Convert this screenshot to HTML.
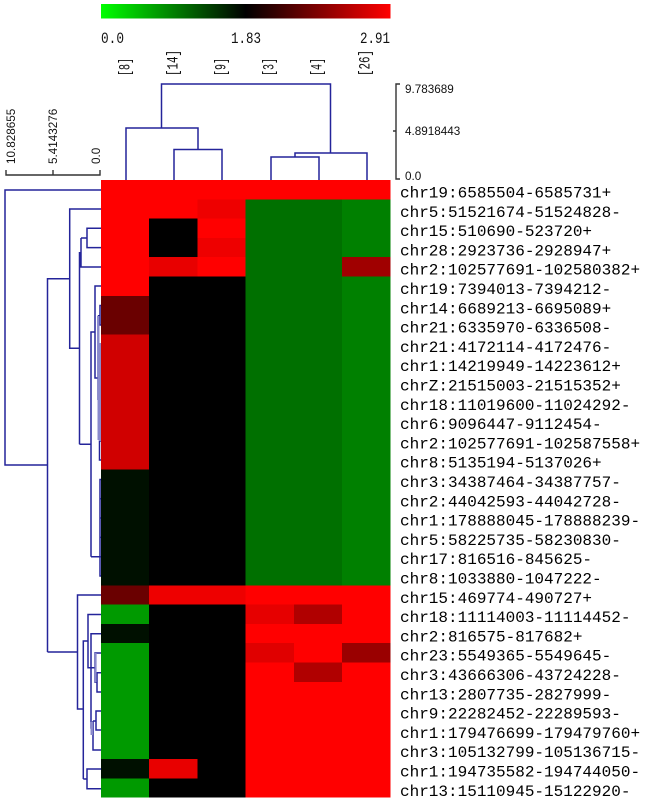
<!DOCTYPE html>
<html><head><meta charset="utf-8"><title>Heatmap</title>
<style>html,body{margin:0;padding:0;background:#fff}svg{display:block}</style></head>
<body>
<svg xmlns="http://www.w3.org/2000/svg" width="650" height="803" viewBox="0 0 650 803">
<defs><linearGradient id="g" x1="0" x2="1" y1="0" y2="0"><stop offset="0" stop-color="#00ff00"/><stop offset="0.5" stop-color="#000"/><stop offset="1" stop-color="#ff0000"/></linearGradient></defs>
<rect width="650" height="803" fill="#fff"/>
<rect x="101" y="4" width="289.5" height="14.5" fill="url(#g)"/>
<g font-family="'Liberation Mono',monospace" font-size="16" fill="#111">
<text x="101" y="43" textLength="23" lengthAdjust="spacingAndGlyphs">0.0</text>
<text x="231" y="43" textLength="30" lengthAdjust="spacingAndGlyphs">1.83</text>
<text x="360" y="43" textLength="30" lengthAdjust="spacingAndGlyphs">2.91</text>
<text transform="translate(129.5,76) rotate(-90)" textLength="18" lengthAdjust="spacingAndGlyphs">[8]</text>
<text transform="translate(177.5,76) rotate(-90)" textLength="26" lengthAdjust="spacingAndGlyphs">[14]</text>
<text transform="translate(225.5,76) rotate(-90)" textLength="18" lengthAdjust="spacingAndGlyphs">[9]</text>
<text transform="translate(273.5,76) rotate(-90)" textLength="18" lengthAdjust="spacingAndGlyphs">[3]</text>
<text transform="translate(321.5,76) rotate(-90)" textLength="18" lengthAdjust="spacingAndGlyphs">[4]</text>
<text transform="translate(369.5,76) rotate(-90)" textLength="26" lengthAdjust="spacingAndGlyphs">[26]</text>
</g>
<g font-family="'Liberation Sans',sans-serif" font-size="11.7" fill="#111">
<text x="405" y="93">9.783689</text>
<text x="405" y="135">4.8918443</text>
<text x="405" y="180">0.0</text>
<text transform="translate(15,164) rotate(-90)">10.828655</text>
<text transform="translate(57,164) rotate(-90)">5.4143276</text>
<text transform="translate(100,164) rotate(-90)">0.0</text>
</g>
<g fill="none" stroke="#333" stroke-width="1.4">
<path d="M400 84H396V179H400M393 131H396"/>
<path d="M6 170V175H100V170M53 170V175"/>
</g>
<g fill="none" stroke="#24249a" stroke-width="1.5">
<path d="M126 180V128H198V149.5M174 180V149.5H222V180M161.5 128V84H330.5V153M295 157V153H367V180M271 180V157H319V180"/>
<path d="M101 190H5V465H47.5M47.5 652V278.7H69.7M101 209H69.7V348.3H79.5M79.5 444.3V252.7H81M81 238V267H101M81 238H87M101 228.3H87V247.6H101"/>
<path d="M79.5 444.3H91M91 556.7V332H95M101 286H95V378H98"/>
<path d="M47.5 652H77.5M101 595H77.5V709H83.3M83.3 779V641H88M101 614.5H88V667.7H91M101 633.7H91V728H93M93 721V750H101M93 721H96M101 711H96V730H101M91 667.7H95M101 653H95V682H97M101 672.7H97V692H101"/>
<path d="M83.3 779H87M101 769H87V788.7H101"/>
<path d="M91 556.7H100M101 479.5H100V576H101M100 498.8H101M100 518H101M100 537.4H101M100 556.7H101"/>
<path d="M98 315.7V400M101 305.5H100V325H101M98 315.7H100M101 344H100V441M100 363H101M100 383H101M100 402H101M100 421H101M101 441H99.5V460H101"/>
</g>
<g fill="#8a8acb" stroke="none">
<rect x="97.5" y="316" width="2" height="124"/>
<rect x="99" y="343" width="2" height="98"/>
<rect x="94.6" y="653" width="2" height="29"/>
<rect x="90.5" y="722" width="2.5" height="13"/>
</g>
<!-- heatmap -->
<g shape-rendering="crispEdges">
<rect x="101" y="180" width="289.3" height="617.6" fill="#ff0000"/>
<rect x="101" y="295.8" width="48.2" height="38.6" fill="#6a0000"/>
<rect x="101" y="334.4" width="48.2" height="135.1" fill="#d00000"/>
<rect x="101" y="469.5" width="48.2" height="115.8" fill="#001000"/>
<rect x="101" y="585.3" width="48.2" height="19.3" fill="#6a0000"/>
<rect x="101" y="604.6" width="48.2" height="19.3" fill="#009a00"/>
<rect x="101" y="623.9" width="48.2" height="19.3" fill="#001000"/>
<rect x="101" y="643.2" width="48.2" height="115.8" fill="#009a00"/>
<rect x="101" y="759" width="48.2" height="19.3" fill="#001000"/>
<rect x="101" y="778.3" width="48.2" height="19.3" fill="#009a00"/>
<rect x="149.2" y="218.6" width="48.2" height="38.6" fill="#000"/>
<rect x="149.2" y="257.2" width="48.2" height="19.3" fill="#e80000"/>
<rect x="149.2" y="276.5" width="48.2" height="308.8" fill="#000"/>
<rect x="149.2" y="585.3" width="48.2" height="19.3" fill="#ee0000"/>
<rect x="149.2" y="604.6" width="48.2" height="154.4" fill="#000"/>
<rect x="149.2" y="759" width="48.2" height="19.3" fill="#e80000"/>
<rect x="149.2" y="778.3" width="48.2" height="19.3" fill="#000"/>
<rect x="197.4" y="199.3" width="48.2" height="19.3" fill="#ee0000"/>
<rect x="197.4" y="237.9" width="48.2" height="19.3" fill="#ee0000"/>
<rect x="197.4" y="276.5" width="48.2" height="308.8" fill="#000"/>
<rect x="197.4" y="585.3" width="48.2" height="19.3" fill="#ee0000"/>
<rect x="197.4" y="604.6" width="48.2" height="193" fill="#000"/>
<rect x="245.6" y="199.3" width="96.4" height="386" fill="#007000"/>
<rect x="342" y="199.3" width="48.3" height="386" fill="#008000"/>
<rect x="342" y="257.2" width="48.3" height="19.3" fill="#a00000"/>
<rect x="245.6" y="604.6" width="48.2" height="19.3" fill="#e60000"/>
<rect x="245.6" y="643.2" width="48.2" height="19.3" fill="#e00000"/>
<rect x="293.8" y="604.6" width="48.2" height="19.3" fill="#b00000"/>
<rect x="293.8" y="662.5" width="48.2" height="19.3" fill="#b00000"/>
<rect x="342" y="643.2" width="48.3" height="19.3" fill="#9a0000"/>
</g>
<g font-family="'Liberation Mono',monospace" font-size="16" fill="#000">
<text x="400" y="197.5">chr19:6585504-6585731+</text>
<text x="400" y="216.8">chr5:51521674-51524828-</text>
<text x="400" y="236.1">chr15:510690-523720+</text>
<text x="400" y="255.4">chr28:2923736-2928947+</text>
<text x="400" y="274.7">chr2:102577691-102580382+</text>
<text x="400" y="294">chr19:7394013-7394212-</text>
<text x="400" y="313.3">chr14:6689213-6695089+</text>
<text x="400" y="332.6">chr21:6335970-6336508-</text>
<text x="400" y="351.9">chr21:4172114-4172476-</text>
<text x="400" y="371.2">chr1:14219949-14223612+</text>
<text x="400" y="390.5">chrZ:21515003-21515352+</text>
<text x="400" y="409.8">chr18:11019600-11024292-</text>
<text x="400" y="429.1">chr6:9096447-9112454-</text>
<text x="400" y="448.4">chr2:102577691-102587558+</text>
<text x="400" y="467.7">chr8:5135194-5137026+</text>
<text x="400" y="487">chr3:34387464-34387757-</text>
<text x="400" y="506.3">chr2:44042593-44042728-</text>
<text x="400" y="525.6">chr1:178888045-178888239-</text>
<text x="400" y="544.9">chr5:58225735-58230830-</text>
<text x="400" y="564.2">chr17:816516-845625-</text>
<text x="400" y="583.5">chr8:1033880-1047222-</text>
<text x="400" y="602.8">chr15:469774-490727+</text>
<text x="400" y="622.1">chr18:11114003-11114452-</text>
<text x="400" y="641.4">chr2:816575-817682+</text>
<text x="400" y="660.7">chr23:5549365-5549645-</text>
<text x="400" y="680">chr3:43666306-43724228-</text>
<text x="400" y="699.3">chr13:2807735-2827999-</text>
<text x="400" y="718.6">chr9:22282452-22289593-</text>
<text x="400" y="737.9">chr1:179476699-179479760+</text>
<text x="400" y="757.2">chr3:105132799-105136715-</text>
<text x="400" y="776.5">chr1:194735582-194744050-</text>
<text x="400" y="795.8">chr13:15110945-15122920-</text>
</g>
</svg>
</body></html>
